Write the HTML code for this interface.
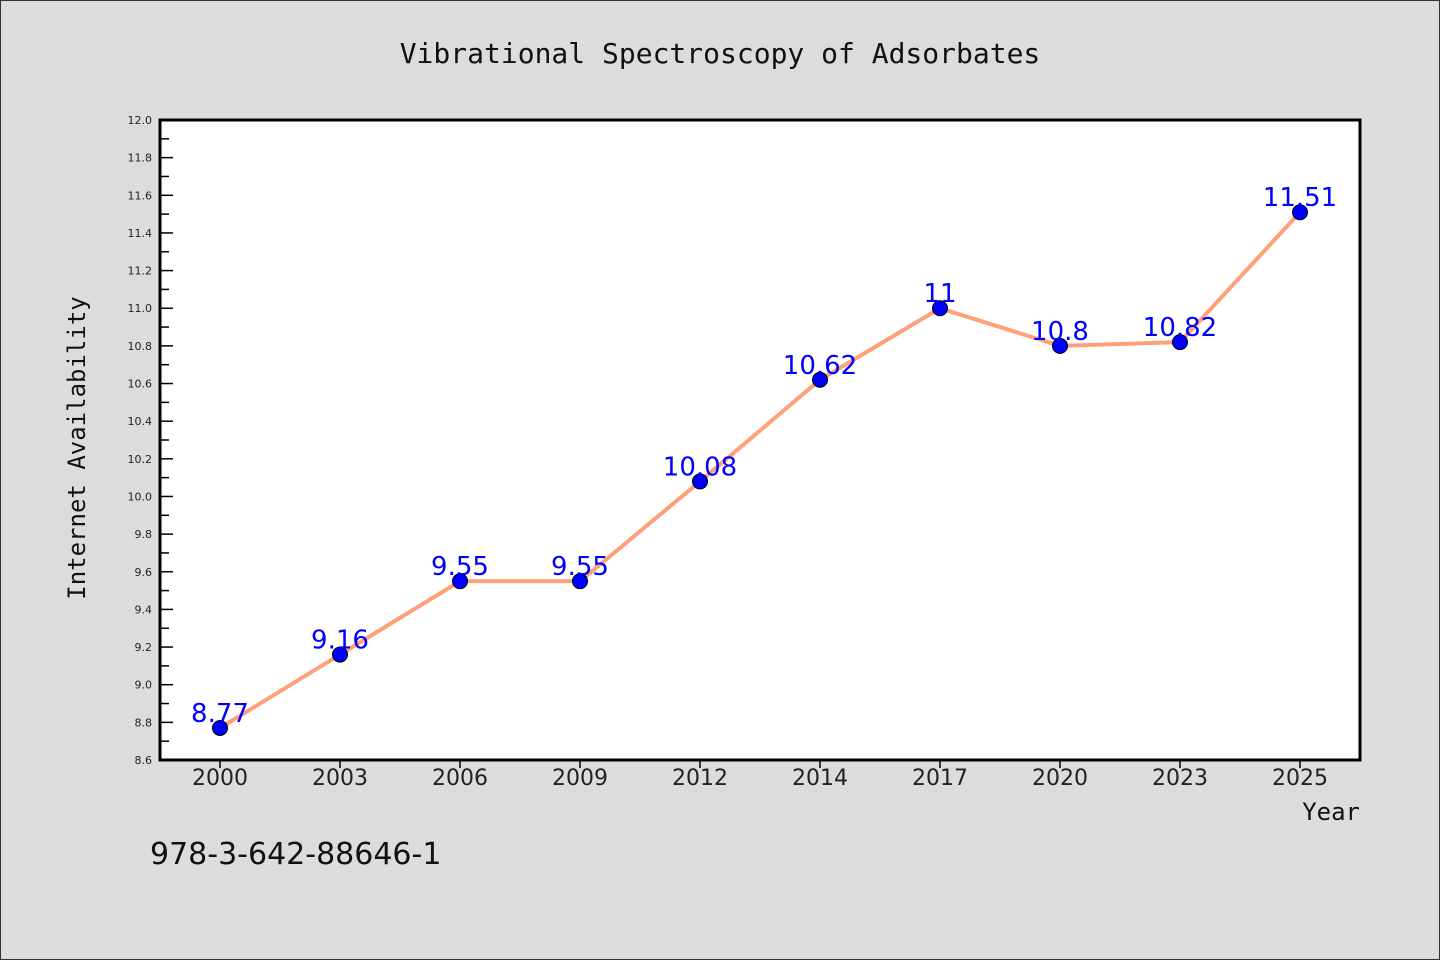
<!DOCTYPE html>
<html><head><meta charset="utf-8"><style>
html,body{margin:0;padding:0;background:#dcdcdc;}
svg{display:block;}
</style></head><body>
<svg id="chart" width="1440" height="960" xmlns="http://www.w3.org/2000/svg">
<rect x="0.5" y="0.5" width="1439" height="959" fill="#dcdcdc" stroke="#333"/>
<text x="720" y="63" text-anchor="middle" font-family="'DejaVu Sans Mono','Liberation Mono',monospace" font-size="28" fill="#111">Vibrational Spectroscopy of Adsorbates</text>
<rect x="160" y="120" width="1200" height="640" fill="#fff"/>
<g id="axes"></g>
<g id="series"></g>
<rect x="160" y="120" width="1200" height="640" fill="none" stroke="#000" stroke-width="3"/>
<text transform="translate(85,448) rotate(-90)" text-anchor="middle" font-family="'DejaVu Sans Mono','Liberation Mono',monospace" font-size="24" fill="#111">Internet Availability</text>
<text x="1360" y="820" text-anchor="end" font-family="'DejaVu Sans Mono','Liberation Mono',monospace" font-size="24" fill="#111">Year</text>
<text x="150" y="864" font-family="'DejaVu Sans','Liberation Sans',sans-serif" font-size="30" fill="#111">978-3-642-88646-1</text>
</svg>
<script>
const categories = ["2000","2003","2006","2009","2012","2014","2017","2020","2023","2025"];
const values = [8.77,9.16,9.55,9.55,10.08,10.62,11,10.8,10.82,11.51];
const valueLabels = ["8.77","9.16","9.55","9.55","10.08","10.62","11","10.8","10.82","11.51"];
const yTicks = ["8.6","8.8","9.0","9.2","9.4","9.6","9.8","10.0","10.2","10.4","10.6","10.8","11.0","11.2","11.4","11.6","11.8","12.0"];
const yMin = 8.6, yMax = 12.0;
const L=160,R=1360,T=120,B=760;
const NS="http://www.w3.org/2000/svg";
function xs(i){const bw=(R-L)/categories.length;return L+bw*(i+0.5);}
function ys(v){return B-(v-yMin)/(yMax-yMin)*(B-T);}
function mk(tag,attrs,parent){const e=document.createElementNS(NS,tag);for(const k in attrs)e.setAttribute(k,attrs[k]);parent.appendChild(e);return e;}
const axes=document.getElementById('axes'), series=document.getElementById('series');
yTicks.forEach((t,i)=>{
  const v=parseFloat(t), y=ys(v);
  const tk=mk('line',{x1:L,x2:L+13,y1:y,y2:y,stroke:'#000','stroke-width':1.5},axes);
  
  
  const lb=mk('text',{x:152,y:y+4,'text-anchor':'end','font-family':"'DejaVu Sans','Liberation Sans',sans-serif",'font-size':11,fill:'#222'},axes);
  lb.textContent=t;
  
  
  if(i<yTicks.length-1){
    const ym=ys(v+0.1);
    const mt=mk('line',{x1:L,x2:L+9,y1:ym,y2:ym,stroke:'#000','stroke-width':1.5},axes);
    
    
  }
});
categories.forEach((c,i)=>{
  const x=xs(i);
  const tk=mk('line',{x1:x,x2:x,y1:B,y2:B+8,stroke:'#000','stroke-width':1.5},axes);
  
  
  const lb=mk('text',{x:x,y:B+25,'text-anchor':'middle','font-family':"'DejaVu Sans','Liberation Sans',sans-serif",'font-size':22,fill:'#222'},axes);
  lb.textContent=c;
  
  
});
const pts=values.map((v,i)=>xs(i)+','+ys(v)).join(' ');
const line=mk('polyline',{points:pts,fill:'none',stroke:'#ffa07a','stroke-width':4,'stroke-linejoin':'round'},series);


values.forEach((v,i)=>{
  const c=mk('circle',{cx:xs(i),cy:ys(v),r:7.5,fill:'#0000ff',stroke:'#000','stroke-width':1},series);
  
  
});
values.forEach((v,i)=>{
  const t=mk('text',{x:xs(i),y:ys(v)-6,'text-anchor':'middle','font-family':"'DejaVu Sans','Liberation Sans',sans-serif",'font-size':26,fill:'#0000ff'},series);
  t.textContent=valueLabels[i];
  
  
});
</script>
</body></html>
